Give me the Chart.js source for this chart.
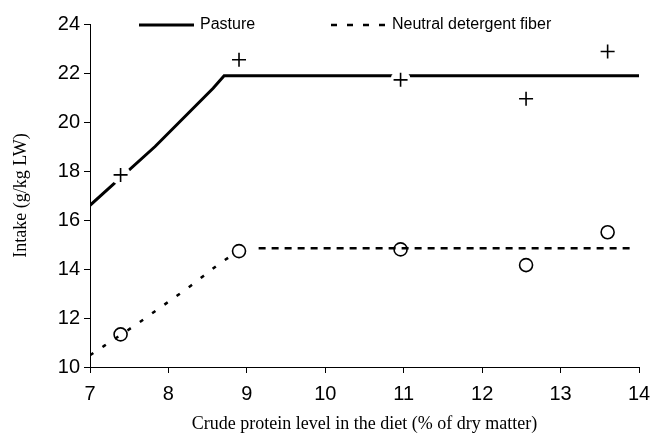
<!DOCTYPE html>
<html>
<head>
<meta charset="utf-8">
<script src="https://cdn.jsdelivr.net/npm/chart.js@4"></script>
<style>
  html,body{margin:0;padding:0;background:#fff}
</style>
</head>
<body>
<canvas id="graph" width="651" height="435"></canvas>
<script>
// observed intakes
const obsX = [7.39, 8.90, 10.96, 12.56, 13.60]
const pastureObs = [17.84, 22.54, 21.72, 20.95, 22.88]
const ndfObs = [11.33, 14.73, 14.80, 14.16, 15.50]

// fitted response lines
const pastureFitX = [7, 7.83, 8.57, 8.71, 14]
const pastureFitY = [16.6, 19.0, 21.38, 21.89, 21.89]
const ndfCurveX = [7, 7.55, 7.92, 8.29, 8.64, 8.83]
const ndfCurveY = [10.48, 11.65, 12.48, 13.33, 14.19, 14.6]
const ndfFlatX = [9.15, 13.95]
const ndfFlatY = [14.85, 14.85]

const xTicks = [7, 8, 9, 10, 11, 12, 13, 14]
const yTicks = [10, 12, 14, 16, 18, 20, 22, 24]

const legendLabels = ['Pasture', 'Neutral detergent fiber']

const pts = (xs, ys) => xs.map((x, i) => ({x: x, y: ys[i]}))
const sans = "'Liberation Sans', Arial, sans-serif"
const serif = "'Liberation Serif', 'Times New Roman', serif"

// small legend drawn inside the plot, like the original
const insideLegend = {
    id: 'insideLegend',
    afterDraw(chart){
        const ctx = chart.ctx
        const a = chart.chartArea
        const y = a.top + 1
        ctx.save()
        ctx.strokeStyle = '#000'
        ctx.lineCap = 'butt'
        ctx.lineWidth = 3
        ctx.beginPath(); ctx.moveTo(a.left + 49, y); ctx.lineTo(a.left + 104, y); ctx.stroke()
        ctx.lineWidth = 2.5
        ctx.setLineDash([6, 10])
        ctx.beginPath(); ctx.moveTo(a.left + 241, y); ctx.lineTo(a.left + 298, y); ctx.stroke()
        ctx.setLineDash([])
        ctx.fillStyle = '#000'
        ctx.font = '16px ' + sans
        ctx.textBaseline = 'middle'
        ctx.fillText(legendLabels[0], a.left + 110, y)
        ctx.fillText(legendLabels[1], a.left + 302, y)
        ctx.restore()
    }
}

new Chart('graph', {
    type: 'scatter',
    data: {
        datasets: [
            {
                label: 'Pasture observed',
                data: pts(obsX, pastureObs),
                pointStyle: 'cross',
                pointRadius: 7,
                borderColor: '#000',
                borderWidth: 1.6,
                showLine: false
            },
            {
                label: 'NDF observed',
                data: pts(obsX, ndfObs),
                pointStyle: 'circle',
                pointRadius: 6.5,
                backgroundColor: 'rgba(0,0,0,0)',
                borderColor: '#000',
                borderWidth: 1.6,
                showLine: false
            },
            {
                label: 'mask',
                data: pts(obsX, pastureObs),
                pointStyle: 'circle',
                pointRadius: 10,
                backgroundColor: '#fff',
                borderWidth: 0,
                showLine: false
            },
            {
                label: legendLabels[0],
                data: pts(pastureFitX, pastureFitY),
                showLine: true,
                borderColor: '#000',
                borderWidth: 3,
                pointRadius: 0,
                tension: 0
            },
            {
                label: legendLabels[1],
                data: pts(ndfCurveX, ndfCurveY),
                showLine: true,
                borderColor: '#000',
                borderWidth: 2.5,
                borderDash: [4, 11],
                pointRadius: 0,
                cubicInterpolationMode: 'monotone'
            },
            {
                label: 'ndf flat',
                data: pts(ndfFlatX, ndfFlatY),
                showLine: true,
                borderColor: '#000',
                borderWidth: 2.5,
                borderDash: [7, 6],
                pointRadius: 0
            }
        ]
    },
    options: {
        responsive: false,
        animation: false,
        devicePixelRatio: 1,
        layout: {padding: {top: 24, right: 12, left: 0, bottom: 0}},
        plugins: {
            legend: {display: false},
            tooltip: {enabled: false}
        },
        scales: {
            x: {
                type: 'linear',
                min: 7, max: 14,
                afterBuildTicks: s => { s.ticks = xTicks.map(v => ({value: v})) },
                afterFit: s => { s.height = 68; s.paddingLeft = 0; s.paddingRight = 0 },
                grid: {drawOnChartArea: false, drawTicks: true, tickLength: 6, color: '#000', lineWidth: 1},
                border: {display: true, color: '#000', width: 1},
                ticks: {color: '#000', font: {family: sans, size: 20}, padding: 9, maxRotation: 0},
                title: {display: true, text: 'Crude protein level in the diet (% of dry matter)', color: '#000',
                        font: {family: serif, size: 18}, padding: {top: 2, bottom: 0}}
            },
            y: {
                min: 10, max: 24,
                afterBuildTicks: s => { s.ticks = yTicks.map(v => ({value: v})) },
                afterFit: s => { s.width = 90; s.paddingTop = 0; s.paddingBottom = 0 },
                grid: {drawOnChartArea: false, drawTicks: true, tickLength: 6, color: '#000', lineWidth: 1},
                border: {display: true, color: '#000', width: 1},
                ticks: {color: '#000', font: {family: sans, size: 20}, padding: 4},
                title: {display: true, text: 'Intake (g/kg LW)', color: '#000',
                        font: {family: serif, size: 18}, padding: {top: 10, bottom: 0}}
            }
        }
    },
    plugins: [insideLegend]
})
</script>
</body>
</html>
